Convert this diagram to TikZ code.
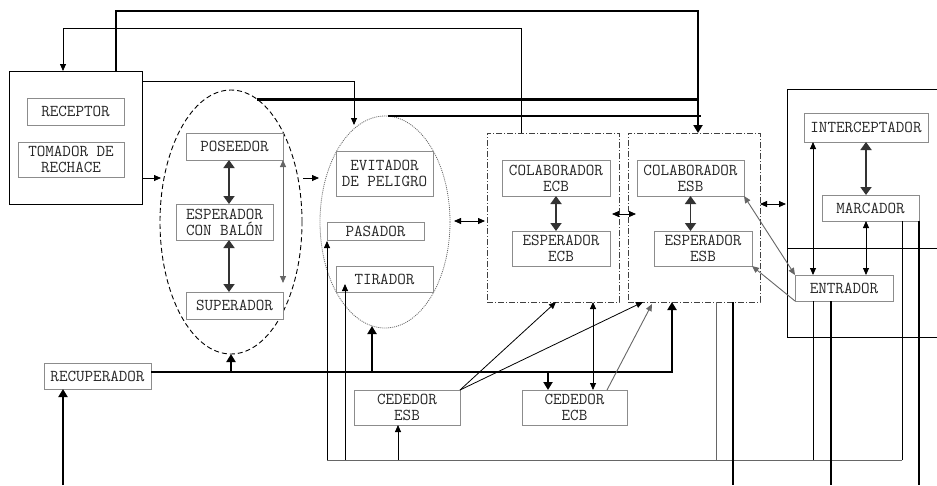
\documentclass[tikz,border=0pt]{standalone}
\usepackage{fontspec}
\usetikzlibrary{arrows.meta,shapes.geometric}
\begin{document}
\begin{tikzpicture}[x=1pt,y=-1pt,
  box/.style={draw=black!45, fill=white, line width=0.9pt, inner sep=0pt, outer sep=0pt, align=center,
    font=\ttfamily\fontsize{16.6}{16}\selectfont, text=black!85},
  grp/.style={draw=black!75, line width=0.8pt, dash pattern=on 6pt off 2pt on 1pt off 2pt, inner sep=0pt, outer sep=0pt},
  ln/.style={draw=black, line width=0.8pt},
  lnG/.style={draw=black!60, line width=0.9pt},
  lnM/.style={draw=black!80, line width=1.8pt},
  lnB/.style={draw=black, line width=2.8pt},
  tS/.tip={Triangle[length=7pt,width=6pt]},
  tM/.tip={Triangle[length=8pt,width=11pt]},
  tB/.tip={Triangle[length=8pt,width=9pt]}]
\useasboundingbox (0,0) rectangle (937,485);

% groups
\node[ellipse, draw=black, line width=0.9pt, dash pattern=on 5pt off 3pt, inner sep=0pt, outer sep=0pt,
  minimum width=142pt, minimum height=264pt] (dashell) at (231,222) {};
\node[ellipse, draw=black!60, line width=0.8pt, dash pattern=on 1pt off 1pt, inner sep=0pt, outer sep=0pt,
  minimum width=130pt, minimum height=212pt] (dotell) at (385,222) {};
\node[grp, minimum width=132pt, minimum height=169pt] (ecb) at (553,217.5) {};
\node[grp, minimum width=132pt, minimum height=169pt] (esb) at (694,217.5) {};
\node[draw=black, line width=0.9pt, fill=white, inner sep=0pt, outer sep=0pt, minimum width=133pt, minimum height=133pt] (bigbox) at (75.5,137.5) {};
\draw[ln] (937,89) -- (787,89) -- (787,337) -- (937,337);
\draw[ln] (787,248) -- (937,248);

% boxes
\node[box, minimum width=97pt, minimum height=27pt] (receptor) at (75.5,111.5) {RECEPTOR};
\node[box, minimum width=106pt, minimum height=35pt] (tomador) at (71,159.5) {TOMADOR DE\\RECHACE};
\node[box, minimum width=97pt, minimum height=27pt] (poseedor) at (234.5,146.5) {POSEEDOR};
\node[box, minimum width=97pt, minimum height=36pt] (espcon) at (224.5,222) {ESPERADOR\\CON BALÓN};
\node[box, minimum width=97pt, minimum height=27pt] (superador) at (234.5,305.5) {SUPERADOR};
\node[box, minimum width=97pt, minimum height=45pt] (evitador) at (384.5,173.5) {EVITADOR\\DE PELIGRO};
\node[box, minimum width=97pt, minimum height=18pt] (pasador) at (375.5,231) {PASADOR};
\node[box, minimum width=97pt, minimum height=26pt] (tirador) at (384.5,279) {TIRADOR};
\node[box, minimum width=108pt, minimum height=36pt] (colabecb) at (556,178) {COLABORADOR\\ECB};
\node[box, minimum width=98pt, minimum height=35pt] (especb) at (561,248.5) {ESPERADOR\\ECB};
\node[box, minimum width=107pt, minimum height=36pt] (colabesb) at (690.5,178) {COLABORADOR\\ESB};
\node[box, minimum width=98pt, minimum height=35pt] (espesb) at (703,248.5) {ESPERADOR\\ESB};
\node[box, minimum width=124pt, minimum height=29pt] (interceptador) at (866,127.5) {INTERCEPTADOR};
\node[box, minimum width=97pt, minimum height=26pt] (marcador) at (870.5,208) {MARCADOR};
\node[box, minimum width=98pt, minimum height=26pt] (entrador) at (844,288) {ENTRADOR};
\node[box, minimum width=107pt, minimum height=26pt] (recuperador) at (97.5,376) {RECUPERADOR};
\node[box, minimum width=106pt, minimum height=35pt] (cedesb) at (407,407.5) {CEDEDOR\\ESB};
\node[box, minimum width=105pt, minimum height=35pt] (cedecb) at (574.5,407.5) {CEDEDOR\\ECB};

% helper coordinates
\coordinate (tl1) at (116,11);
\coordinate (tr1) at (698,11);
\coordinate (t2a) at (63,28);
\coordinate (t2b) at (521,28);
\coordinate (t3) at (354,81);
\coordinate (t3e) at (354,125);
\coordinate (y178) at (0,178);
\coordinate (rbl) at (786,204);
\coordinate (x813) at (813,0);
\coordinate (bL) at (327,460);
\coordinate (bR) at (902,460);
\coordinate (x345) at (345,0);
\coordinate (x398) at (398,0);
\coordinate (x716) at (716,0);
\coordinate (x733) at (733,0);
\coordinate (x831) at (831,0);
\coordinate (x919) at (919,0);
\coordinate (bot) at (0,485);
\coordinate (recin) at (63,485);
\coordinate (h1) at (672,372);
\coordinate (x231) at (231,0);
\coordinate (x372) at (372,0);
\coordinate (x548) at (548,0);
\coordinate (x556) at (556,0);
\coordinate (x643) at (643,0);
\coordinate (x607) at (607,0);
\coordinate (x652) at (652,0);
\coordinate (x593) at (593,0);

% top connectors
\draw[lnB,-tB] (bigbox.north -| tl1) -- (tl1) -- (tr1) -- (tr1 |- esb.north);
\draw[lnB] (dashell.78) -- (dashell.78 -| tr1);
\draw[lnB] ([xshift=3pt]dotell.north) -- ([xshift=3pt]dotell.north -| tr1);
\draw[ln,-tS] (ecb.north -| t2b) -- (t2b) -- (t2a) -- (t2a |- bigbox.north);
\draw[ln,-tS] (bigbox.north east |- t3) -- (t3) -- (t3e);

% left flow
\draw[ln,-tS] (bigbox.east |- y178) -- ([xshift=1pt]dashell.west |- y178);
\draw[ln,-tS] ([xshift=1pt]dashell.east |- y178) -- ([xshift=-1pt]dotell.west |- y178);
\draw[lnM,tM-tM] ([xshift=-5.5pt]poseedor.south) -- ([xshift=4.5pt]espcon.north);
\draw[lnM,tM-tM] ([xshift=4.5pt]espcon.south) -- ([xshift=-5.5pt]superador.north);
\draw[lnG,tS-tS] (poseedor.south east) -- ([yshift=9pt]superador.north east);

% middle
\draw[ln,tS-tS] ([xshift=4pt,yshift=1pt]dotell.east) -- ([xshift=-2pt,yshift=-3.5pt]ecb.west);
\draw[lnM,tM-tM] (colabecb.south) -- (colabecb.south |- especb.north);
\draw[ln,tS-tS] ([xshift=-7pt,yshift=3.5pt]ecb.east) -- ([xshift=8pt,yshift=3.5pt]esb.west);
\draw[lnM,tM-tM] (colabesb.south) -- (colabesb.south |- espesb.north);
\draw[ln,tS-tS] (esb.east |- rbl) -- (rbl);

% right
\draw[lnM,tM-tM] (interceptador.south) -- (interceptador.south |- marcador.north);
\draw[ln,tS-tS] (marcador.south -| interceptador.south) -- (entrador.north -| interceptador.south);
\draw[ln,tS-tS] (interceptador.south -| x813) -- (entrador.north -| x813);
\draw[lnG,tS-tS] (colabesb.south east) -- (entrador.north west);
\draw[lnG,-tS] (entrador.south west) -- (espesb.south east);

% bottom thin network
\draw[lnG] (bL) -- (bR);
\draw[ln,-tS] (bL) -- ([yshift=-1pt]bL |- pasador.south);
\draw[ln,-tS] (x345 |- bL) -- ([yshift=8pt]tirador.south -| x345);
\draw[ln,-tS] (x398 |- bL) -- (x398 |- cedesb.south);
\draw[lnG] (x716 |- bL) -- (x716 |- esb.south);
\draw[ln] (x813 |- bL) -- (x813 |- entrador.south);
\draw[ln] (bR) -- (bR |- marcador.south);

% thick verticals going down
\draw[lnB] (x733 |- esb.south) -- (x733 |- bot);
\draw[lnB] (x831 |- entrador.south) -- (x831 |- bot);
\draw[lnB] (x919 |- marcador.south) -- (x919 |- bot);

% recuperador network
\draw[lnB,-tB] (recin) -- (recin |- recuperador.south);
\draw[lnB,-tB] (recuperador.east |- h1) -- (h1) -- (h1 |- esb.south);
\draw[lnB,-tB] (x231 |- h1) -- (dashell.south);
\draw[lnB,-tB] (x372 |- h1) -- ([yshift=2pt]x372 |- dotell.south);
\draw[lnB,-tB] (x548 |- h1) -- (x548 |- cedecb.north);

% cededores
\draw[ln,-tS] (cedesb.north east) -- (x556 |- ecb.south);
\draw[ln,-tS] (cedesb.north east) -- (x643 |- esb.south);
\draw[lnG,-tS] (x607 |- cedecb.north) -- ([yshift=-2pt]x652 |- esb.south);
\draw[ln,tS-tS] (x593 |- ecb.south) -- (x593 |- cedecb.north);
\end{tikzpicture}
\end{document}
